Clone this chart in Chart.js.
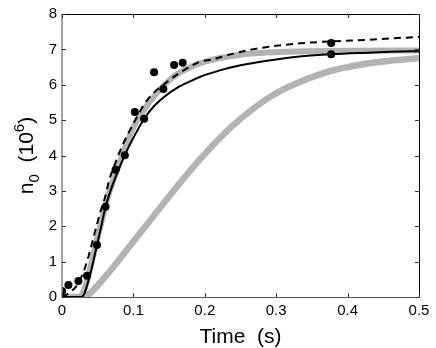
<!DOCTYPE html>
<html>
<head>
<meta charset="utf-8">
<script src="https://cdn.jsdelivr.net/npm/chart.js@4"></script>
<style>
  html, body { margin: 0; padding: 0; background: #fff; }
  #wrap { width: 436px; height: 348px; }
</style>
</head>
<body>
<div id="wrap"><canvas id="c" width="436" height="348"></canvas></div>
<script>
// axis ticks
const xTicks = [0, 0.1, 0.2, 0.3, 0.4, 0.5];
const xTickLabels = ['0', '0.1', '0.2', '0.3', '0.4', '0.5'];
const yTicks = [0, 1, 2, 3, 4, 5, 6, 7, 8];
const yTickLabels = ['0', '1', '2', '3', '4', '5', '6', '7', '8'];

// measured points (time s, n0 in 10^6)
const dotT = [0, 0.009, 0.023, 0.035, 0.049, 0.061, 0.075, 0.088, 0.102, 0.115, 0.129, 0.142, 0.157, 0.169, 0.377, 0.377];
const dotN = [0.17, 0.34, 0.45, 0.6, 1.47, 2.55, 3.6, 4.01, 5.23, 5.04, 6.35, 5.88, 6.56, 6.62, 7.18, 6.86];

// solid black model
const solidT = [0, 0.027, 0.031, 0.036, 0.041, 0.049, 0.055, 0.061, 0.07, 0.079, 0.088, 0.1, 0.115, 0.13, 0.142, 0.16, 0.18, 0.193, 0.22, 0.25, 0.287, 0.333, 0.377, 0.42, 0.46, 0.5];
const solidN = [0, 0, 0.08, 0.39, 0.76, 1.47, 2.0, 2.55, 3.12, 3.59, 4.01, 4.5, 5.04, 5.42, 5.64, 5.9, 6.1, 6.22, 6.4, 6.55, 6.68, 6.8, 6.86, 6.9, 6.93, 6.95];

// dashed black model
const dashT = [0, 0.01, 0.02, 0.025, 0.03, 0.037, 0.045, 0.053, 0.06, 0.066, 0.074, 0.085, 0.1, 0.119, 0.147, 0.175, 0.193, 0.212, 0.24, 0.267, 0.3, 0.333, 0.38, 0.427, 0.46, 0.5];
const dashN = [0, 0.12, 0.3, 0.48, 0.7, 1.14, 1.75, 2.36, 2.8, 3.3, 3.75, 4.3, 4.9, 5.56, 6.08, 6.46, 6.65, 6.72, 6.88, 7.0, 7.1, 7.17, 7.23, 7.27, 7.31, 7.35];

// thick grey model (fast)
const grayAT = [0, 0.025, 0.03, 0.035, 0.04, 0.047, 0.055, 0.063, 0.072, 0.08, 0.09, 0.1, 0.115, 0.13, 0.145, 0.16, 0.18, 0.2, 0.22, 0.25, 0.287, 0.33, 0.4, 0.5];
const grayAN = [0, 0, 0.15, 0.45, 0.85, 1.45, 2.1, 2.75, 3.3, 3.75, 4.3, 4.8, 5.3, 5.7, 6.03, 6.28, 6.5, 6.65, 6.75, 6.85, 6.91, 6.94, 6.96, 6.97];

// thick grey model (slow)
const grayBT = [0, 0.03, 0.04, 0.05, 0.06, 0.072, 0.095, 0.119, 0.142, 0.165, 0.19, 0.215, 0.24, 0.265, 0.287, 0.31, 0.333, 0.355, 0.38, 0.4, 0.427, 0.46, 0.5];
const grayBN = [0, 0, 0.12, 0.33, 0.56, 0.85, 1.44, 2.05, 2.64, 3.22, 3.82, 4.37, 4.86, 5.28, 5.6, 5.87, 6.08, 6.25, 6.41, 6.5, 6.6, 6.68, 6.75];

const pts = (ts, ns) => ts.map((t, i) => ({ x: t, y: ns[i] }));
const GRAY = '#b3b3b3';
const FONT = 'Liberation Sans, Arial, Helvetica, sans-serif';

// box, inside ticks and the y title with sub/superscript
const frame = {
  id: 'frame',
  afterDraw(chart) {
    const { ctx, chartArea: a, scales: { x, y } } = chart;
    ctx.save();
    ctx.lineWidth = 1;
    ctx.strokeStyle = '#000';
    ctx.beginPath();
    ctx.moveTo(a.left, a.top + 0.5); ctx.lineTo(a.right + 0.5, a.top + 0.5);
    ctx.moveTo(a.right + 0.5, a.top); ctx.lineTo(a.right + 0.5, a.bottom);
    ctx.stroke();
    ctx.strokeStyle = '#555';
    ctx.beginPath();
    ctx.moveTo(a.left, a.bottom + 0.5); ctx.lineTo(a.right + 1, a.bottom + 0.5);
    ctx.stroke();
    ctx.strokeStyle = '#8a8a8a';
    ctx.lineWidth = 1.6;
    ctx.beginPath();
    ctx.moveTo(a.left, a.top); ctx.lineTo(a.left, a.bottom + 1);
    ctx.stroke();
    ctx.lineWidth = 1;
    ctx.strokeStyle = '#333';
    ctx.beginPath();
    xTicks.forEach(v => {
      const px = Math.round(x.getPixelForValue(v)) + 0.5;
      ctx.moveTo(px, a.bottom); ctx.lineTo(px, a.bottom - 4);
      ctx.moveTo(px, a.top); ctx.lineTo(px, a.top + 4);
    });
    yTicks.forEach(v => {
      const py = Math.round(y.getPixelForValue(v)) + 0.5;
      ctx.moveTo(a.left, py); ctx.lineTo(a.left + 4, py);
      ctx.moveTo(a.right, py); ctx.lineTo(a.right - 4, py);
    });
    ctx.stroke();

    // y title: n0 (10^6)
    const parts = [
      { t: 'n', s: 21, dy: 0 },
      { t: '0', s: 15, dy: 6 },
      { t: '  (10', s: 21, dy: 0 },
      { t: '6', s: 15, dy: -9 },
      { t: ')', s: 21, dy: 0 }
    ];
    let w = 0;
    parts.forEach(p => { ctx.font = p.s + 'px ' + FONT; p.w = ctx.measureText(p.t).width; w += p.w; });
    ctx.translate(33, (a.top + a.bottom) / 2);
    ctx.rotate(-Math.PI / 2);
    ctx.fillStyle = '#000';
    ctx.textBaseline = 'alphabetic';
    let cx = -w / 2;
    parts.forEach(p => {
      ctx.font = p.s + 'px ' + FONT;
      ctx.fillText(p.t, cx, p.dy);
      cx += p.w;
    });
    ctx.restore();
  }
};

const line = (ts, ns, color, width, order, dash) => ({
  type: 'line',
  data: pts(ts, ns),
  order: order,
  borderColor: color,
  borderWidth: width,
  borderDash: dash || [],
  pointRadius: 0,
  fill: false,
  cubicInterpolationMode: 'monotone',
  borderCapStyle: 'butt'
});

new Chart(document.getElementById('c'), {
  type: 'scatter',
  data: {
    datasets: [
      line(grayBT, grayBN, GRAY, 6.5, 5),
      line(grayAT, grayAN, GRAY, 6, 4),
      line(solidT, solidN, '#000', 2, 3),
      line(dashT, dashN, '#000', 2, 2, [7, 5]),
      {
        type: 'scatter',
        order: 1,
        data: pts(dotT, dotN),
        backgroundColor: '#000',
        borderColor: '#000',
        pointRadius: 4,
        borderWidth: 0
      }
    ]
  },
  options: {
    responsive: false,
    animation: false,
    events: [],
    layout: { padding: { top: 14, right: 17, left: 0, bottom: 0 } },
    plugins: { legend: { display: false }, tooltip: { enabled: false } },
    scales: {
      x: {
        type: 'linear',
        min: 0, max: 0.5,
        afterBuildTicks: s => { s.ticks = xTicks.map(v => ({ value: v })); },
        afterFit: s => { s.height = 51; },
        grid: { display: false, drawTicks: false },
        border: { display: false },
        ticks: {
          padding: 5,
          color: '#000',
          font: { family: FONT, size: 15 },
          maxRotation: 0,
          callback: (v, i) => xTickLabels[i]
        },
        title: {
          display: true,
          text: 'Time  (s)',
          color: '#000',
          font: { family: FONT, size: 21, lineHeight: 1 },
          padding: { top: 0, bottom: 0 }
        }
      },
      y: {
        type: 'linear',
        min: 0, max: 8,
        afterBuildTicks: s => { s.ticks = yTicks.map(v => ({ value: v })); },
        afterFit: s => { s.width = 62; },
        grid: { display: false, drawTicks: false },
        border: { display: false },
        ticks: {
          padding: 5,
          color: '#000',
          font: { family: FONT, size: 15 },
          callback: (v, i) => yTickLabels[i]
        }
      }
    }
  },
  plugins: [frame]
});
</script>
</body>
</html>
